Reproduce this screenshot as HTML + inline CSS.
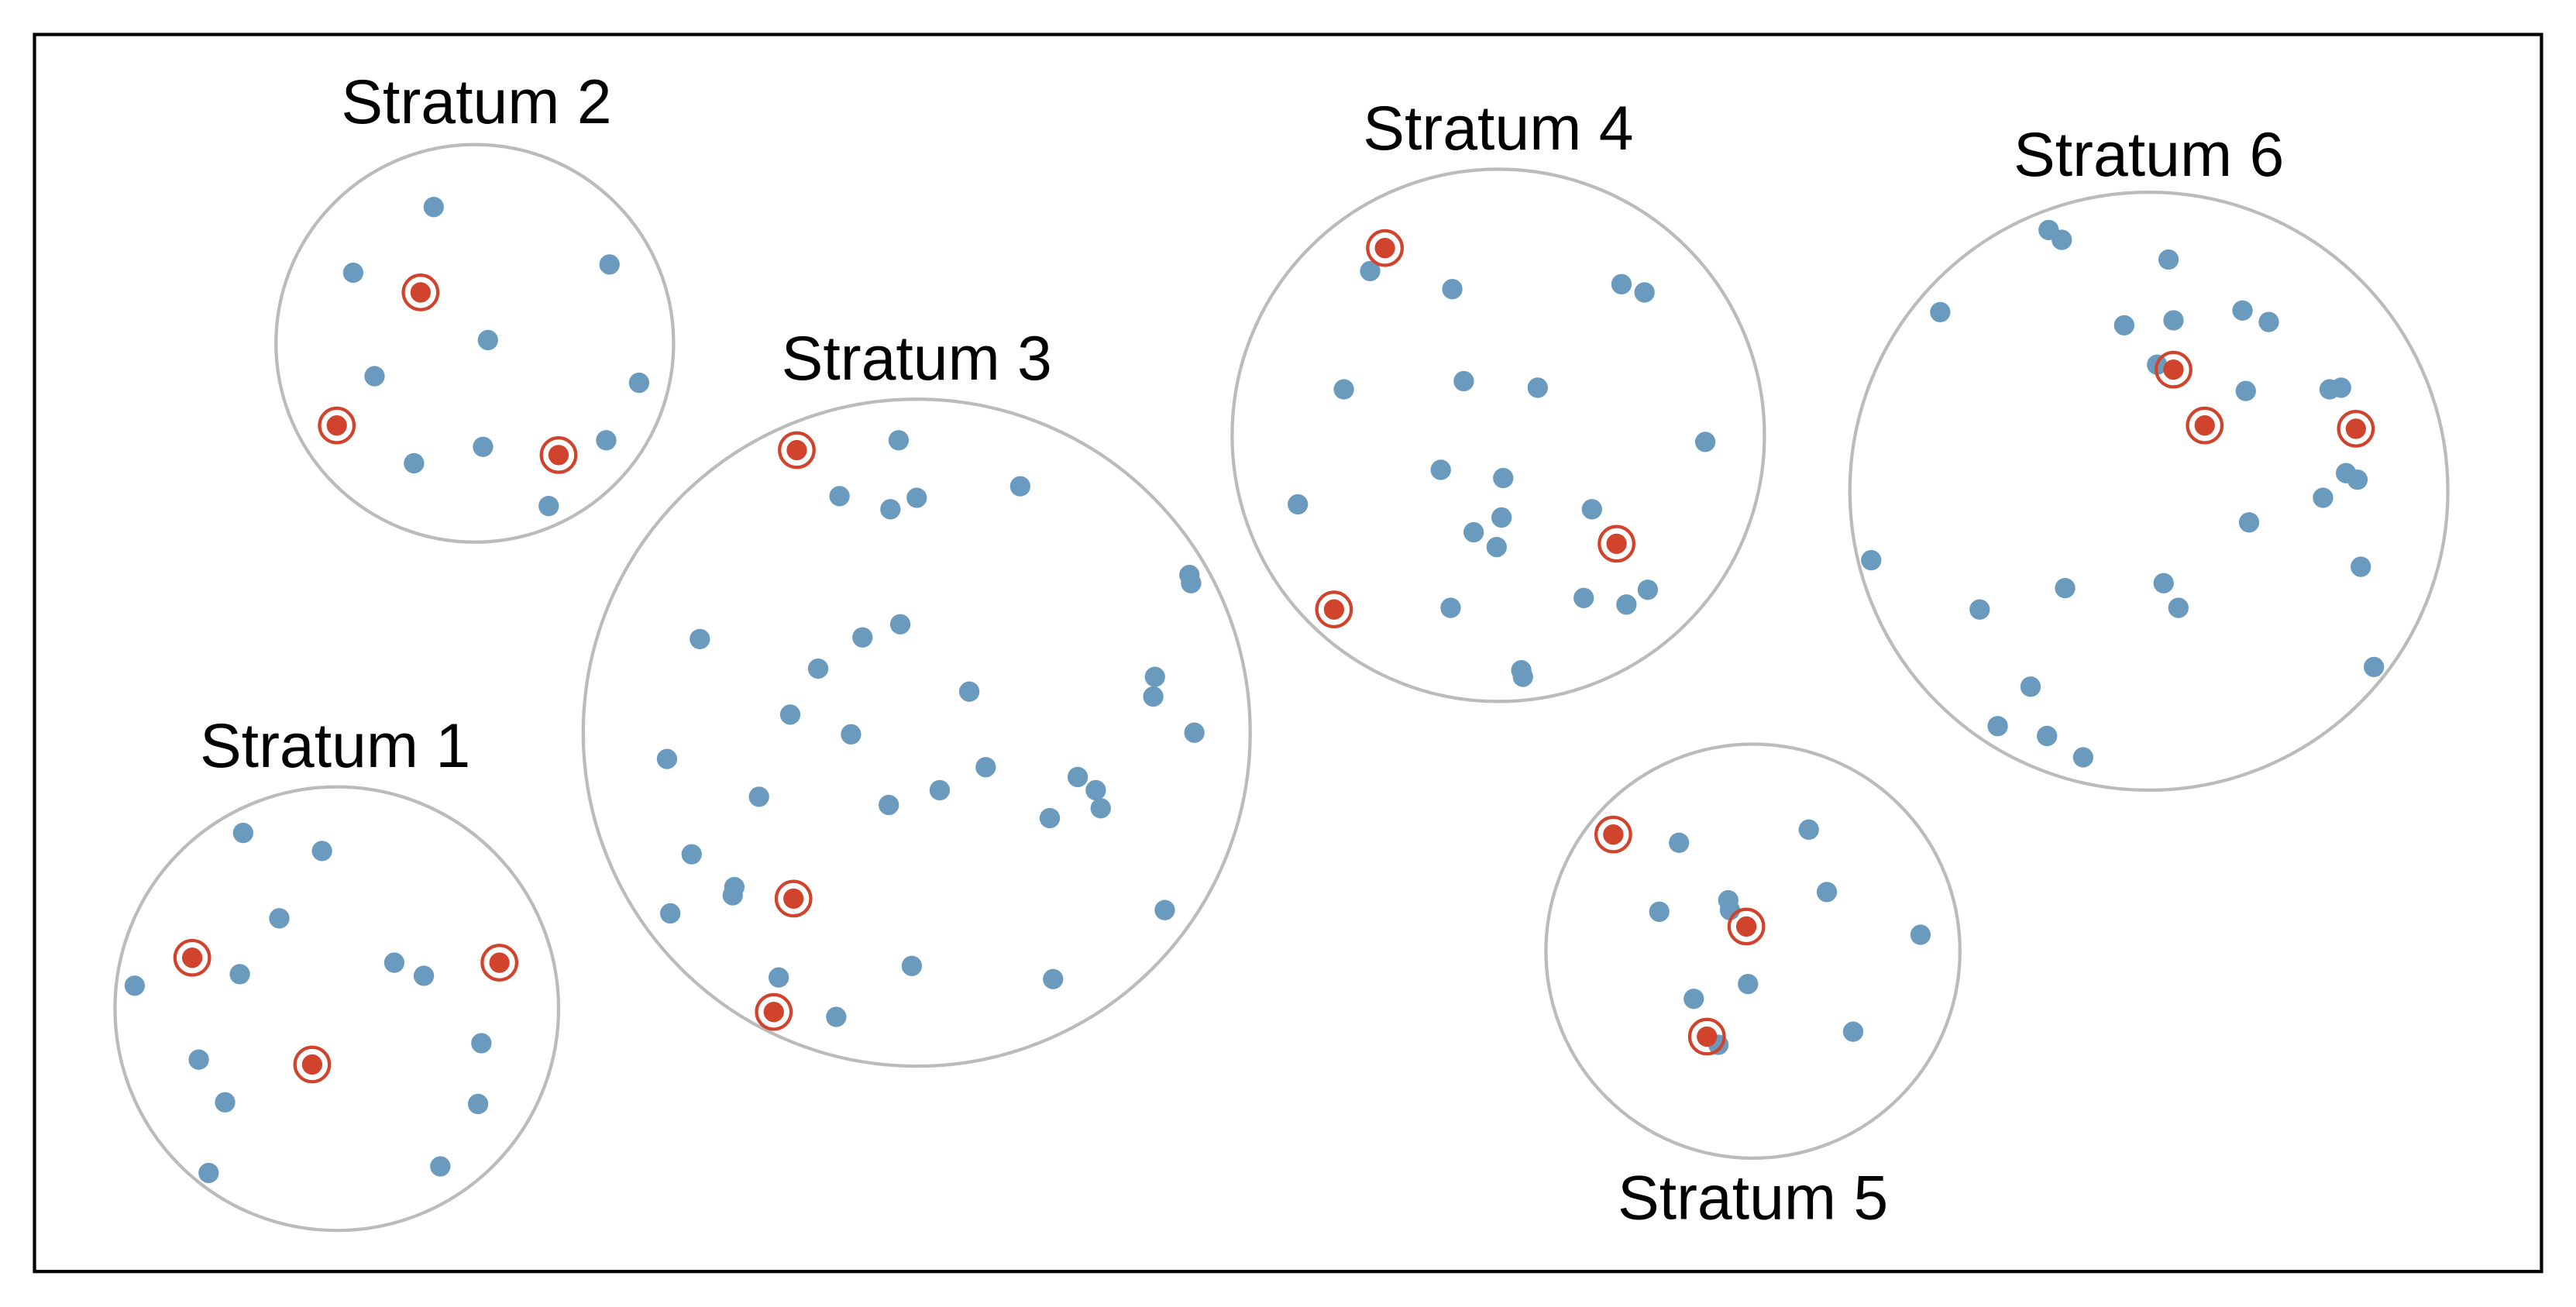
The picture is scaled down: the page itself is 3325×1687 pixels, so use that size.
<!DOCTYPE html>
<html><head><meta charset="utf-8"><style>
html,body{margin:0;padding:0;background:#fff;}
svg{display:block;}
text{font-family:"Liberation Sans",sans-serif;font-size:38px;fill:#000;text-anchor:middle;}
</style></head><body>
<svg width="3325" height="1687" viewBox="0 0 1568 795.6" preserveAspectRatio="none" xmlns="http://www.w3.org/2000/svg">
<rect x="0" y="0" width="1568" height="796" fill="#fff"/>
<rect x="21" y="21" width="1526" height="753" fill="none" stroke="#000" stroke-width="2"/>
<g fill="none" stroke="#bbb" stroke-width="2">
<circle cx="205" cy="614" r="135"/>
<circle cx="289" cy="209" r="121"/>
<circle cx="558" cy="446" r="203"/>
<circle cx="912" cy="265" r="162"/>
<circle cx="1067" cy="579" r="126"/>
<circle cx="1308" cy="299" r="182"/>
</g>
<text x="204" y="467">Stratum 1</text>
<text x="290" y="75">Stratum 2</text>
<text x="558" y="231">Stratum 3</text>
<text x="912" y="91">Stratum 4</text>
<text x="1067" y="742">Stratum 5</text>
<text x="1308" y="107">Stratum 6</text>
<g id="dots" fill="#6a9bbf"></g>
<g id="reds"></g>
<script>
var B=[[148,507],[196,518],[170,559],[146,593],[82,600],[240,586],[258,594],[121,645],[137,671],[293,635],[291,672],[127,714],[268,710],
[264,126],[215,166],[371,161],[297,207],[228,229],[389,233],[252,282],[294,272],[369,268],[334,308],
[547,268],[511,302],[542,310],[558,303],[621,296],[724,350],[725,355],[426,389],[525,388],[548,380],[498,407],[481,435],[518,447],[590,421],[703,412],[702,424],[727,446],[406,462],[462,485],[541,490],[572,481],[600,467],[656,473],[667,481],[670,492],[639,498],[421,520],[447,540],[446,545],[408,556],[709,554],[474,595],[555,588],[641,596],[509,619],
[834,165],[884,176],[987,173],[1001,178],[818,237],[891,232],[936,236],[1038,269],[877,286],[915,291],[790,307],[969,310],[914,315],[897,324],[911,333],[883,370],[964,364],[990,368],[1003,359],[926,408],[927,412],
[1022,513],[1101,505],[1112,543],[1052,548],[1053,554],[1010,555],[1169,569],[1064,599],[1031,608],[1046,636],[1128,628],
[1247,140],[1255,146],[1320,158],[1181,190],[1293,198],[1323,195],[1365,189],[1381,196],[1313,222],[1367,238],[1418,237],[1425,236],[1428,288],[1435,292],[1414,303],[1369,318],[1139,341],[1437,345],[1317,355],[1257,358],[1326,370],[1205,371],[1445,406],[1236,418],[1216,442],[1246,448],[1268,461]];
var R=[[117,583],[304,586],[190,648],[256,178],[205,259],[340,277],[485,274],[483,547],[471,616],[843,151],[984,331],[812,371],[982,508],[1063,564],[1039,631],[1323,225],[1342,259],[1434,261]];
var ns="http://www.w3.org/2000/svg",g=document.getElementById("dots"),r=document.getElementById("reds");
B.forEach(function(p){var c=document.createElementNS(ns,"circle");c.setAttribute("cx",p[0]);c.setAttribute("cy",p[1]);c.setAttribute("r",6.2);g.appendChild(c);});
R.forEach(function(p){var c=document.createElementNS(ns,"circle");c.setAttribute("cx",p[0]);c.setAttribute("cy",p[1]);c.setAttribute("r",6.2);c.setAttribute("fill","#d0432c");r.appendChild(c);
var o=document.createElementNS(ns,"circle");o.setAttribute("cx",p[0]);o.setAttribute("cy",p[1]);o.setAttribute("r",10.5);o.setAttribute("fill","none");o.setAttribute("stroke","#d0432c");o.setAttribute("stroke-width",2);r.appendChild(o);});
</script>
</svg>
</body></html>
